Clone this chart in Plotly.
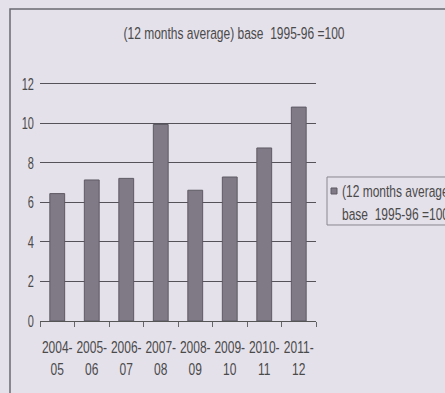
import plotly.graph_objects as go

categories = ["2004-<br>05", "2005-<br>06", "2006-<br>07", "2007-<br>08",
              "2008-<br>09", "2009-<br>10", "2010-<br>11", "2011-<br>12"]
values = [6.45, 7.14, 7.22, 9.95, 6.62, 7.29, 8.76, 10.83]
series_name = "(12 months average)<br>base  1995-96 =100"
title_text = "(12 months average) base  1995-96 =100"
y_ticks = [0, 2, 4, 6, 8, 10, 12]

FONT = "Liberation Sans, Arial, sans-serif"
BG = "#e5e1ea"
TXT = "#4a4a4a"
BAR = "#7f7a86"
YMAX = 12.1

fig = go.Figure()
fig.add_trace(go.Bar(
    x=categories, y=values, name=series_name,
    marker=dict(color=BAR, line=dict(color="#5e5a64", width=1)),
    showlegend=False,
))

W, H = 445, 393
L, R, B = 40, 316, 321
T = B - YMAX * (237 / 12)
pw, ph = R - L, B - T

def px(x):
    return (x - L) / pw

def py(y):
    return (B - y) / ph

shapes = [
    dict(type="rect", xref="paper", yref="paper",
         x0=px(10), x1=px(470), y0=py(420), y1=py(9),
         line=dict(color="#6a6870", width=1.5), layer="below"),
    dict(type="rect", xref="paper", yref="paper",
         x0=px(327), x1=px(470), y0=py(225), y1=py(177),
         line=dict(color="#8a8790", width=1), fillcolor=BG, layer="above"),
    dict(type="rect", xref="paper", yref="paper",
         x0=px(331), x1=px(337), y0=py(194), y1=py(188),
         line=dict(color="#5e5a64", width=1), fillcolor=BAR, layer="above"),
]

annotations = [
    dict(text=series_name, xref="paper", yref="paper",
         x=px(340), y=py(203.5), xanchor="left", yanchor="middle",
         align="left", showarrow=False,
         font=dict(family=FONT, size=12, color=TXT)),
]

fig.update_layout(
    width=W, height=H,
    margin=dict(l=L, r=W - R, t=T, b=H - B, autoexpand=False),
    paper_bgcolor=BG, plot_bgcolor=BG,
    font=dict(family=FONT, size=12, color=TXT),
    bargap=0.57,
    title=dict(text=title_text, xref="container", x=234 / W, xanchor="center",
               yref="container", y=1 - 33 / H, yanchor="middle",
               font=dict(family=FONT, size=12, color=TXT)),
    showlegend=False,
    xaxis=dict(showline=True, linecolor="#555", linewidth=1,
               ticks="outside", tickson="boundaries", ticklen=5,
               tickcolor="#666", showgrid=False, tickangle=0,
               ticklabelstandoff=18,
               tickfont=dict(family=FONT, size=12, color=TXT)),
    yaxis=dict(range=[0, YMAX], tickvals=y_ticks, showgrid=True,
               gridcolor="#55525a", gridwidth=1, zeroline=False,
               showline=False, ticks="", ticklen=0, ticklabelstandoff=5,
               tickfont=dict(family=FONT, size=11, color=TXT)),
    shapes=shapes,
    annotations=annotations,
)

# The reference uses a tall, narrow typeface: stretch text vertically about its centre.
post = """
var gd = document.getElementById('{plot_id}');
var s = 1.45;
gd.querySelectorAll('svg text').forEach(function(t){
  try {
    var b = t.getBBox();
    var cy = b.y + b.height / 2;
    var tr = t.getAttribute('transform') || '';
    t.setAttribute('transform', tr + ' translate(0,' + cy + ') scale(1,' + s + ') translate(0,' + (-cy) + ')');
  } catch (e) {}
});
"""

fig.write_html("out.html", post_script=post)
